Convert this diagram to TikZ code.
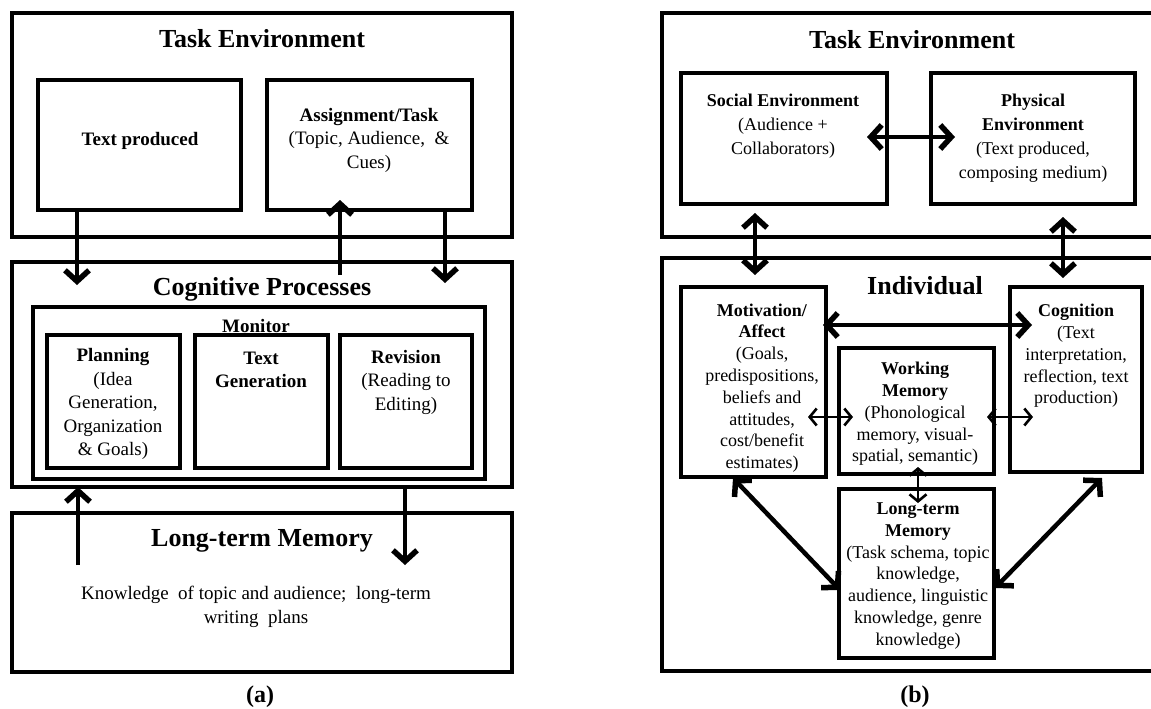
\documentclass[tikz,border=0pt]{standalone}
\usepackage{fontspec}
\setmainfont{Liberation Serif}
\usetikzlibrary{arrows.meta,fit,calc}
\begin{document}
\begin{tikzpicture}[x=1pt,y=-1pt,
  box/.style={draw, line width=4pt, inner sep=0pt, outer sep=0pt},
  ttl/.style={font=\fontsize{26}{30}\selectfont\bfseries, inner sep=0pt},
  figlabel/.style={font=\fontsize{24}{28}\selectfont\bfseries, inner sep=0pt},
  txa/.style={font=\fontsize{19}{23.5}\selectfont, align=center, inner sep=0pt},
  txb/.style={font=\fontsize{18}{21.8}\selectfont, align=center, inner sep=0pt},
  txc/.style={font=\fontsize{18}{24}\selectfont, align=center, inner sep=0pt},
  bighead/.tip={Straight Barb[length=11pt,width=24pt,line width=5.5pt]},
  thinhead/.tip={Straight Barb[length=7pt,width=17pt,line width=2.6pt]},
  bigone/.style={line width=4.5pt, -bighead},
  bigtwo/.style={line width=4.5pt, bighead-bighead},
  thintwo/.style={line width=2.2pt, thinhead-thinhead}
]
\clip (0,0) rectangle (1151,709);
\fill[white] (0,0) rectangle (1151,709);

% ---------------- Panel (a) ----------------
\node[box, fit={(12,13) (512,237)}] (teA) {};
\node[box, fit={(38,80) (241,210)}] (tpA) {};
\node[box, fit={(267,80) (472,210)}] (asA) {};
\node[box, fit={(12,262) (512,487)}] (cpA) {};
\node[box, fit={(33,307) (485,479)}] (moA) {};
\node[box, fit={(47,335) (180,468)}] (plA) {};
\node[box, fit={(195,335) (328,468)}] (tgA) {};
\node[box, fit={(340,335) (472,468)}] (rvA) {};
\node[box, fit={(12,513) (512,672)}] (ltA) {};

\node[ttl] (teAt) at (262,39) {Task Environment};
\node[txa] (tpAt) at (140,141) {\textbf{Text produced}};
\node[txa] (asAt) at (369,140) {\textbf{Assignment/Task}\\(Topic, Audience,~ \&\\Cues)};
\node[ttl] (cpAt) at (262,289) {Cognitive Processes};
\node[txa] (moAt) at (256,326) {\textbf{Monitor}};
\node[txa] (plAt) at (113,404) {\textbf{Planning}\\(Idea\\Generation,\\Organization\\\& Goals)};
\node[txa] (tgAt) at (261,370) {\textbf{Text}\\\textbf{Generation}};
\node[txa] (rvAt) at (406,382) {\textbf{Revision}\\(Reading to\\Editing)};
\node[ttl] (ltAt) at (262,541) {Long-term Memory};
\node[txa] (ltAb) at (256,607) {Knowledge~ of topic and audience;~ long-term\\writing~ plans};
\node[figlabel] (capA) at (260,697) {(a)};

\coordinate (a1) at (77,285);
\coordinate (a2) at (340,275);
\coordinate (a3) at (340,200);
\coordinate (a4) at (445,283);
\coordinate (a5) at (78,565);
\coordinate (a6) at (405,565);
\draw[bigone] (tpA.south -| a1) -- (a1);
\draw[bigone] (a2) -- (a3);
\draw[bigone] (asA.south -| a4) -- (a4);
\draw[bigone] (a5) -- (cpA.south -| a5);
\draw[bigone] (cpA.south -| a6) -- (a6);

% ---------------- Panel (b) ----------------
\node[box, fit={(662,13) (1170,237)}] (teB) {};
\node[box, fit={(681,73) (887,204)}] (soB) {};
\node[box, fit={(931,73) (1135,204)}] (phB) {};
\node[box, fit={(662,258) (1170,671)}] (inB) {};
\node[box, fit={(681,287) (826,477)}] (mvB) {};
\node[box, fit={(839,348) (994,474)}] (wmB) {};
\node[box, fit={(1010,287) (1142,472)}] (cgB) {};
\node[box, fit={(839,489) (994,658)}] (lmB) {};

\node[ttl] (teBt) at (912,40) {Task Environment};
\node[txc] (soBt) at (783,126) {\textbf{Social Environment}\\(Audience +\\Collaborators)};
\node[txc] (phBt) at (1033,138) {\textbf{Physical}\\\textbf{Environment}\\(Text produced,\\composing medium)};
\node[ttl] (inBt) at (925,286) {Individual};
\node[txb] (mvBt) at (762,388) {\textbf{Motivation/}\\\textbf{Affect}\\(Goals,\\predispositions,\\beliefs and\\attitudes,\\cost/benefit\\estimates)};
\node[txb] (wmBt) at (915,414) {\textbf{Working}\\\textbf{Memory}\\(Phonological\\memory, visual-\\spatial, semantic)};
\node[txb] (cgBt) at (1076,356) {\textbf{Cognition}\\(Text\\interpretation,\\reflection, text\\production)};
\node[txb] (lmBt) at (918,576) {\textbf{Long-term}\\\textbf{Memory}\\(Task schema, topic\\knowledge,\\audience, linguistic\\knowledge, genre\\knowledge)};
\node[figlabel] (capB) at (915,697) {(b)};

\coordinate (b1) at (867,137);
\coordinate (b2) at (955,137);
\coordinate (b3) at (755,213);
\coordinate (b4) at (755,275);
\coordinate (b5) at (1063,217);
\coordinate (b6) at (1063,278);
\coordinate (b7) at (823,325);
\coordinate (b8) at (1032,325);
\coordinate (b9) at (808,417);
\coordinate (b10) at (853,417);
\coordinate (b11) at (987,417);
\coordinate (b12) at (1033,417);
\coordinate (b13) at (918,467);
\coordinate (b14) at (918,503);
\coordinate (b15) at (733,478);
\coordinate (b16) at (840,590);
\coordinate (b17) at (1102,478);
\coordinate (b18) at (995,588);
\draw[bigtwo] (b1) -- (b2);
\draw[bigtwo] (b3) -- (b4);
\draw[bigtwo] (b5) -- (b6);
\draw[bigtwo] (b7) -- (b8);
\draw[thintwo] (b9) -- (b10);
\draw[thintwo] (b11) -- (b12);
\draw[thintwo] (b13) -- (b14);
\draw[bigtwo] (b15) -- (b16);
\draw[bigtwo] (b17) -- (b18);
\end{tikzpicture}
\end{document}
